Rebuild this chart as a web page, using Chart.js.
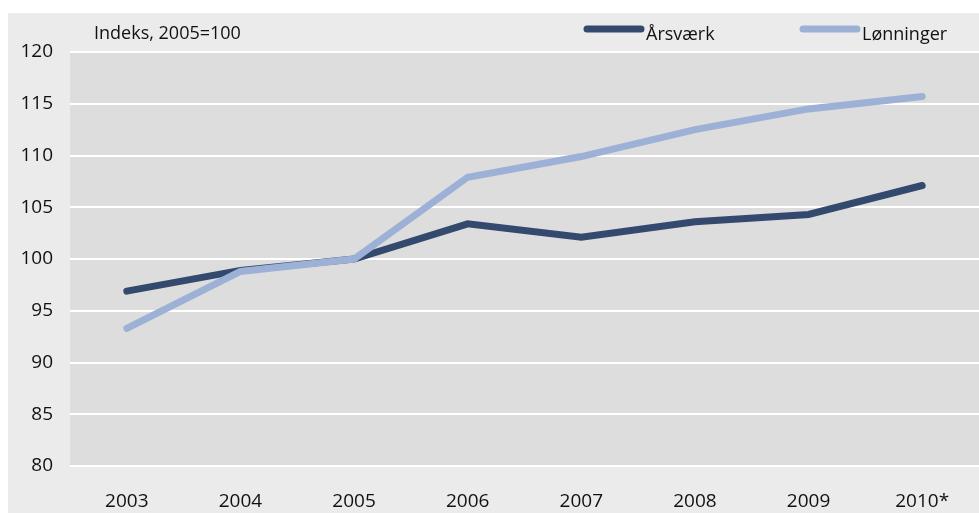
<!DOCTYPE html>
<html>
<head>
<meta charset="utf-8">
<script src="https://cdn.jsdelivr.net/npm/chart.js@4/dist/chart.umd.min.js"></script>
<style>
  html, body { margin: 0; padding: 0; background: #fff; }
  #wrap { width: 979px; height: 513px; }
</style>
</head>
<body>
<div id="wrap"><canvas id="indexChart" width="979" height="513"></canvas></div>
<script>
// data
var years = ["2003", "2004", "2005", "2006", "2007", "2008", "2009", "2010*"];
var aarsvaerk = [96.9, 98.9, 100.0, 103.4, 102.1, 103.6, 104.3, 107.1];
var lonninger = [93.3, 98.8, 100.0, 107.9, 109.9, 112.5, 114.5, 115.7];
var yTicks = [80, 85, 90, 95, 100, 105, 110, 115, 120];

var FONT = "'Open Sans', 'Noto Sans', sans-serif";
var darkBlue = "#34496e";
var lightBlue = "#9db1d6";

// grey panels behind the chart
var backgroundPlugin = {
  id: "panels",
  beforeDraw: function(chart) {
    var ctx = chart.ctx;
    var area = chart.chartArea;
    ctx.save();
    ctx.fillStyle = "#ffffff";
    ctx.fillRect(0, 0, chart.width, chart.height);
    ctx.fillStyle = "#ebebeb";
    ctx.fillRect(8, 13, chart.width - 8, chart.height - 13);
    ctx.fillStyle = "#dddddd";
    ctx.fillRect(area.left, area.top, area.right - area.left, area.bottom - area.top);
    ctx.restore();
  }
};

// unit label + legend on the top band
var headerPlugin = {
  id: "header",
  afterDraw: function(chart) {
    var ctx = chart.ctx;
    ctx.save();
    ctx.font = "18px " + FONT;
    ctx.fillStyle = "#111";
    ctx.textBaseline = "alphabetic";
    ctx.textAlign = "left";
    ctx.fillText("Indeks, 2005=100", 94, 39);

    var slots = [584, 800]; // left edge of each legend line
    chart.data.datasets.forEach(function(ds, i) {
      var x = slots[i];
      ctx.strokeStyle = ds.borderColor;
      ctx.lineWidth = 7;
      ctx.lineCap = "round";
      ctx.beginPath();
      ctx.moveTo(x + 3, 29);
      ctx.lineTo(x + 57, 29);
      ctx.stroke();
      ctx.fillText(ds.label, x + 62, 40);
    });
    ctx.restore();
  }
};

var ctx = document.getElementById("indexChart").getContext("2d");
var indexChart = new Chart(ctx, {
  type: "line",
  data: {
    labels: years,
    datasets: [
      {
        label: "Årsværk",
        data: aarsvaerk,
        borderColor: darkBlue,
        backgroundColor: darkBlue,
        borderWidth: 7,
        borderCapStyle: "round",
        pointRadius: 0,
        tension: 0,
        order: 1
      },
      {
        label: "Lønninger",
        data: lonninger,
        borderColor: lightBlue,
        backgroundColor: lightBlue,
        borderWidth: 7,
        borderCapStyle: "round",
        pointRadius: 0,
        tension: 0,
        order: 0
      }
    ]
  },
  options: {
    responsive: false,
    animation: false,
    layout: { padding: { top: 52, left: 0, right: 0, bottom: 0 } },
    scales: {
      x: {
        offset: true,
        grid: { display: false, drawTicks: false },
        border: { display: false },
        ticks: {
          color: "#111",
          font: { family: FONT, size: 19 },
          padding: 24,
          maxRotation: 0
        },
        afterFit: function(scale) { scale.height = 47; }
      },
      y: {
        min: 80,
        max: 120,
        afterBuildTicks: function(scale) {
          scale.ticks = yTicks.map(function(v) { return { value: v }; });
        },
        grid: { color: "#ffffff", lineWidth: 2, drawTicks: false },
        border: { display: false },
        ticks: {
          color: "#111",
          font: { family: FONT, size: 19 },
          padding: 17
        },
        afterFit: function(scale) { scale.width = 70; }
      }
    },
    plugins: {
      legend: { display: false },
      tooltip: { enabled: false }
    }
  },
  plugins: [backgroundPlugin, headerPlugin]
});
</script>
</body>
</html>
